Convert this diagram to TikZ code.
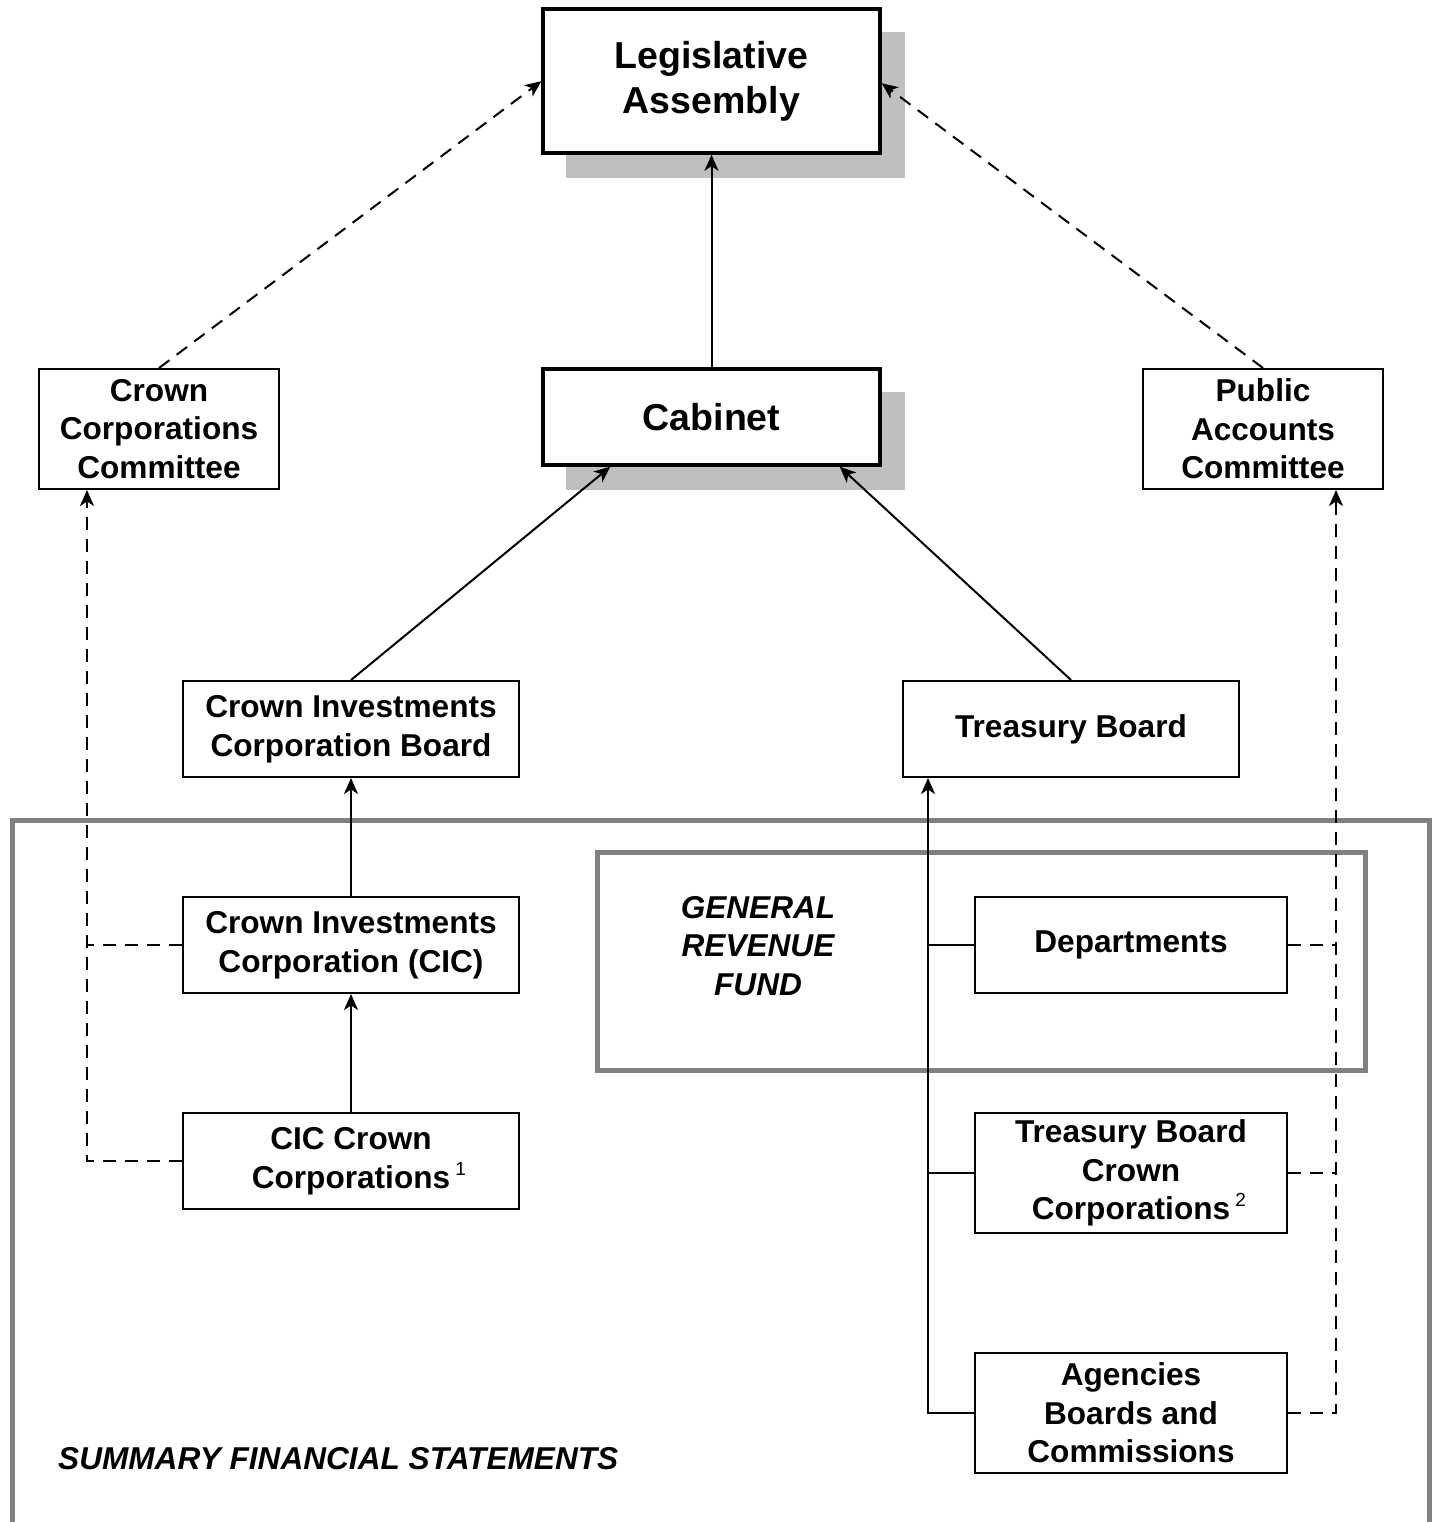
\documentclass[tikz,border=0pt]{standalone}
\usepackage{fontspec}
\setmainfont{Liberation Sans}
\usetikzlibrary{arrows.meta}
\begin{document}
\begin{tikzpicture}[x=1pt,y=-1pt,
  box/.style={draw=black,line width=2pt,fill=white,inner sep=0pt,align=center,
    font=\fontsize{31.6}{38.5}\selectfont\bfseries},
  bigbox/.style={box,line width=3.5pt,font=\fontsize{37.5}{45}\selectfont\bfseries},
  shadowfill/.style={fill=black!25,draw=none},
  grayframe/.style={draw=black!50,line width=5pt},
  conn/.style={line width=2pt,draw=black},
  arr/.style={conn,-{Stealth[length=16pt,width=14pt,inset=4.5pt]}},
  dashline/.style={conn,dash pattern=on 13pt off 9pt},
  darr/.style={dashline,-{Stealth[length=16pt,width=14pt,inset=4.5pt]}},
  lbl/.style={inner sep=0pt,align=center,font=\fontsize{31.6}{38.5}\selectfont\bfseries\itshape}
]
\path[use as bounding box] (0,0) rectangle (1437,1522);
\fill[white] (0,0) rectangle (1437,1522);

% frames
\draw[grayframe] (12,1522) -- (12,820) -- (1429,820) -- (1429,1522);
\draw[grayframe] (597,852) rectangle (1365,1070);

% shadows
\fill[shadowfill] (566,32) rectangle (905,178);
\fill[shadowfill] (566,392) rectangle (905,490);

% nodes
\node[bigbox,minimum width=337pt,minimum height=144pt] (la) at (711.5,81) {Legislative\\Assembly};
\node[bigbox,minimum width=337pt,minimum height=96pt] (cab) at (711.5,417) {Cabinet};
\node[box,minimum width=240pt,minimum height=120pt] (ccc) at (159,429) {Crown\\Corporations\\Committee};
\node[box,minimum width=240pt,minimum height=120pt] (pac) at (1263,429) {Public\\Accounts\\Committee};
\node[box,minimum width=336pt,minimum height=96pt] (cicb) at (351,729) {Crown Investments\\Corporation Board};
\node[box,minimum width=336pt,minimum height=96pt] (tb) at (1071,729) {Treasury Board};
\node[box,minimum width=336pt,minimum height=96pt] (cic) at (351,945) {Crown Investments\\Corporation (CIC)};
\node[box,minimum width=336pt,minimum height=96pt] (ciccc) at (351,1161) {CIC Crown\\Corporations\rlap{\,\raisebox{13pt}{\fontsize{19}{19}\selectfont\mdseries 1}}};
\node[box,minimum width=312pt,minimum height=96pt] (dep) at (1131,945) {Departments};
\node[box,minimum width=312pt,minimum height=120pt] (tbcc) at (1131,1173) {Treasury Board\\Crown\\Corporations\rlap{\,\raisebox{13pt}{\fontsize{19}{19}\selectfont\mdseries 2}}};
\node[box,minimum width=312pt,minimum height=120pt] (abc) at (1131,1413) {Agencies\\Boards and\\Commissions};

\node[lbl] (grf) at (758,946) {GENERAL\\REVENUE\\FUND};
\node[lbl,anchor=west] (sfs) at (58,1459) {SUMMARY FINANCIAL STATEMENTS};

% coordinates
\coordinate (lj1) at (87,945);
\coordinate (lj2) at (87,1161);
\coordinate (rj1) at (1336,945);
\coordinate (rj2) at (1336,1173);
\coordinate (rj3) at (1336,1413);
\coordinate (tj) at (928,1413);

% solid arrows
\draw[arr] (cab.north) -- (la.south);
\draw[arr] (cicb.north) -- ([xshift=69pt]cab.south west);
\draw[arr] (tb.north) -- ([xshift=-42pt]cab.south east);
\draw[arr] (cic.north) -- (cicb.south);
\draw[arr] (ciccc.north) -- (cic.south);
\draw[arr] (abc.west) -- (tj) -- (tb.south -| tj);
\draw[conn] (dep.west) -- (dep.west -| tj);
\draw[conn] (tbcc.west) -- (tbcc.west -| tj);

% dashed arrows
\draw[darr] (ccc.north) -- ([yshift=-74pt]la.north west);
\draw[darr] (pac.north) -- ([yshift=-76pt]la.north east);
\draw[dashline] (cic.west) -- (lj1);
\draw[darr] (ciccc.west) -- (lj2) -- (ccc.south -| lj2);
\draw[dashline] (dep.east) -- (rj1);
\draw[dashline] (tbcc.east) -- (rj2);
\draw[darr] (abc.east) -- (rj3) -- (pac.south -| rj3);
\end{tikzpicture}
\end{document}
